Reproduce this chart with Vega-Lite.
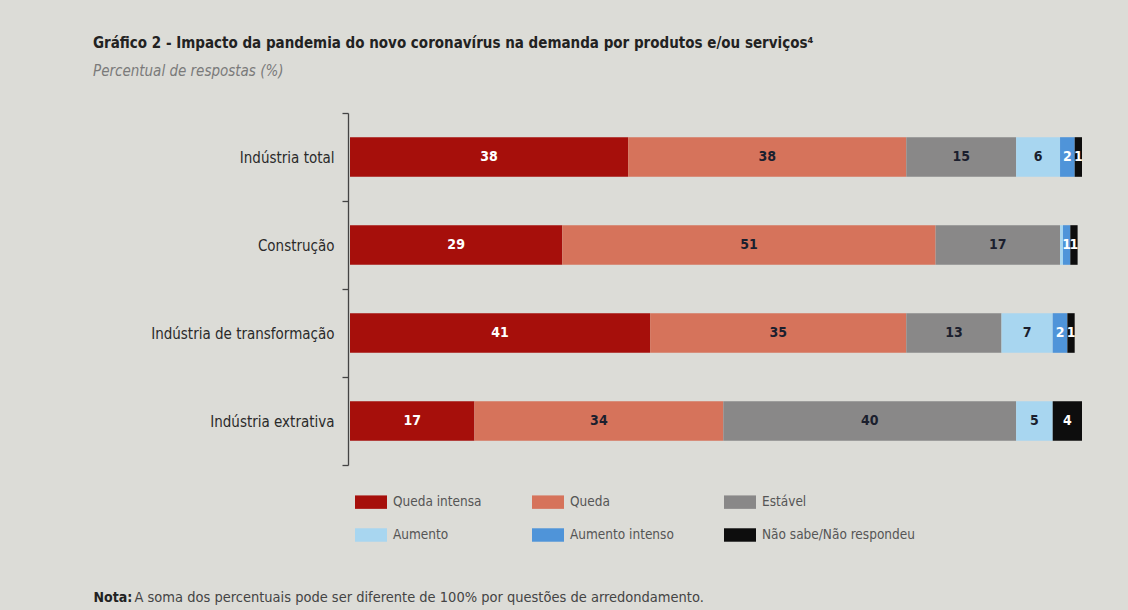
{
  "$schema": "https://vega.github.io/schema/vega-lite/v6.json",
  "width": 732,
  "height": 352,
  "autosize": {"type": "none"},
  "padding": {"left": 350, "top": 113, "right": 46, "bottom": 145},
  "background": "#dcdcd7",
  "config": {
    "view": {"stroke": null},
    "font": "DejaVu Sans Condensed, sans-serif"
  },
  "title": {
    "text": "Gráfico 2 - Impacto da pandemia do novo coronavírus na demanda por produtos e/ou serviços⁴",
    "subtitle": "Percentual de respostas (%)",
    "anchor": "start",
    "frame": "group",
    "dx": -257,
    "offset": 27,
    "fontSize": 15,
    "fontWeight": "bold",
    "color": "#222222",
    "subtitleFontSize": 15,
    "subtitleFontStyle": "italic",
    "subtitleColor": "#7a7a7a",
    "subtitlePadding": 13
  },
  "data": {
    "values": [
      {"setor": "Indústria total", "categoria": "Queda intensa", "valor": 38, "ordem": 1},
      {"setor": "Indústria total", "categoria": "Queda", "valor": 38, "ordem": 2},
      {"setor": "Indústria total", "categoria": "Estável", "valor": 15, "ordem": 3},
      {"setor": "Indústria total", "categoria": "Aumento", "valor": 6, "ordem": 4},
      {"setor": "Indústria total", "categoria": "Aumento intenso", "valor": 2, "ordem": 5},
      {"setor": "Indústria total", "categoria": "Não sabe/Não respondeu", "valor": 1, "ordem": 6},
      {"setor": "Construção", "categoria": "Queda intensa", "valor": 29, "ordem": 1},
      {"setor": "Construção", "categoria": "Queda", "valor": 51, "ordem": 2},
      {"setor": "Construção", "categoria": "Estável", "valor": 17, "ordem": 3},
      {"setor": "Construção", "categoria": "Aumento", "valor": 0.4, "ordem": 4},
      {"setor": "Construção", "categoria": "Aumento intenso", "valor": 1, "ordem": 5},
      {"setor": "Construção", "categoria": "Não sabe/Não respondeu", "valor": 1, "ordem": 6},
      {"setor": "Indústria de transformação", "categoria": "Queda intensa", "valor": 41, "ordem": 1},
      {"setor": "Indústria de transformação", "categoria": "Queda", "valor": 35, "ordem": 2},
      {"setor": "Indústria de transformação", "categoria": "Estável", "valor": 13, "ordem": 3},
      {"setor": "Indústria de transformação", "categoria": "Aumento", "valor": 7, "ordem": 4},
      {"setor": "Indústria de transformação", "categoria": "Aumento intenso", "valor": 2, "ordem": 5},
      {"setor": "Indústria de transformação", "categoria": "Não sabe/Não respondeu", "valor": 1, "ordem": 6},
      {"setor": "Indústria extrativa", "categoria": "Queda intensa", "valor": 17, "ordem": 1},
      {"setor": "Indústria extrativa", "categoria": "Queda", "valor": 34, "ordem": 2},
      {"setor": "Indústria extrativa", "categoria": "Estável", "valor": 40, "ordem": 3},
      {"setor": "Indústria extrativa", "categoria": "Aumento", "valor": 5, "ordem": 4},
      {"setor": "Indústria extrativa", "categoria": "Aumento intenso", "valor": 0, "ordem": 5},
      {"setor": "Indústria extrativa", "categoria": "Não sabe/Não respondeu", "valor": 4, "ordem": 6}
    ]
  },
  "transform": [
    {"stack": "valor", "groupby": ["setor"], "sort": [{"field": "ordem"}], "as": ["inicio", "fim"]},
    {"calculate": "(datum.inicio + datum.fim) / 2", "as": "meio"}
  ],
  "encoding": {
    "y": {
      "field": "setor",
      "type": "nominal",
      "sort": ["Indústria total", "Construção", "Indústria de transformação", "Indústria extrativa"],
      "scale": {"paddingInner": 0, "paddingOuter": 0},
      "axis": {
        "title": null,
        "offset": 2,
        "domainColor": "#444444",
        "domainWidth": 1.3,
        "tickColor": "#444444",
        "tickWidth": 1.3,
        "tickSize": 6,
        "tickBand": "extent",
        "labelFontSize": 15,
        "labelColor": "#2a2a2a",
        "labelPadding": 8,
        "labelLimit": 300
      }
    }
  },
  "layer": [
    {
      "mark": {"type": "bar", "height": {"band": 0.45}},
      "encoding": {
        "x": {
          "field": "inicio",
          "type": "quantitative",
          "scale": {"domain": [0, 100], "nice": false},
          "axis": {
            "orient": "bottom",
            "labels": false,
            "ticks": false,
            "domain": false,
            "grid": false,
            "title": "Nota:",
            "titleFontSize": 14,
            "titleFontWeight": "bold",
            "titleColor": "#222222",
            "titleX": -257,
            "titleY": 136,
            "titleAlign": "left",
            "titleAnchor": "start",
            "titleBaseline": "alphabetic"
          }
        },
        "x2": {"field": "fim"},
        "color": {
          "field": "categoria",
          "type": "nominal",
          "scale": {
            "domain": ["Queda intensa", "Queda", "Estável", "Aumento", "Aumento intenso", "Não sabe/Não respondeu"],
            "range": ["#a60f0b", "#d6735b", "#898888", "#a8d6f0", "#4f94d9", "#0d0d0d"]
          },
          "legend": {
            "orient": "none",
            "legendX": 5,
            "legendY": 373,
            "direction": "horizontal",
            "columns": 3,
            "title": null,
            "symbolType": "M-1,-0.42H1V0.42H-1Z",
            "symbolSize": 1024,
            "symbolStrokeWidth": 0,
            "symbolOpacity": 1,
            "labelFontSize": 13.5,
            "labelColor": "#555555",
            "labelOffset": 6,
            "columnPadding": 50,
            "rowPadding": 10,
            "labelLimit": 300
          }
        }
      }
    },
    {
      "transform": [{"filter": "datum.valor >= 1"}],
      "mark": {"type": "text", "fontWeight": "bold", "fontSize": 14},
      "encoding": {
        "x": {
          "field": "meio",
          "type": "quantitative",
          "scale": {"domain": [0, 100], "nice": false},
          "axis": {
            "orient": "top",
            "labels": false,
            "ticks": false,
            "domain": false,
            "grid": false,
            "title": "A soma dos percentuais pode ser diferente de 100% por questões de arredondamento.",
            "titleFontSize": 14.5,
            "titleFontWeight": "normal",
            "titleColor": "#444444",
            "titleX": -216,
            "titleY": 488,
            "titleAlign": "left",
            "titleAnchor": "start",
            "titleBaseline": "alphabetic"
          }
        },
        "text": {"field": "valor"},
        "color": {
          "condition": {
            "test": "datum.categoria === 'Queda intensa' || datum.categoria === 'Aumento intenso' || datum.categoria === 'Não sabe/Não respondeu'",
            "value": "#ffffff"
          },
          "value": "#1b1f2e"
        }
      }
    }
  ],
  "resolve": {"scale": {"x": "independent"}}
}
